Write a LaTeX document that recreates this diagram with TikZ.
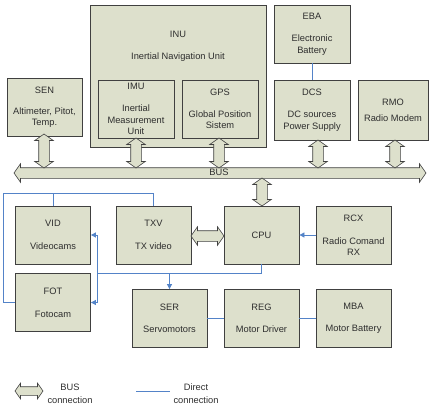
\documentclass[tikz,border=0pt]{standalone}
\usepackage{fontspec}
\setmainfont{Liberation Sans}
\usetikzlibrary{shapes.arrows,arrows.meta}
\definecolor{boxfill}{HTML}{DDE0CC}
\definecolor{boxline}{HTML}{404040}
\definecolor{directblue}{HTML}{5383C8}
\definecolor{txtgray}{HTML}{2E2E2E}

\begin{document}
\begin{tikzpicture}[x=1pt, y=-1pt,
    font=\fontsize{9.3}{11.5}\selectfont, text=txtgray,
    module/.style ={rectangle, draw=boxline, fill=boxfill, line width=0.8pt, minimum width=75pt, minimum height=58pt, align=center, inner sep=1pt},
    busarrow/.style ={double arrow, draw=boxline, fill=boxfill, line width=0.6pt, inner xsep=0pt, inner ysep=5pt, double arrow head extend=4pt, double arrow tip angle=110},
    busvert/.style ={busarrow, shape border rotate=90, inner xsep=5pt, inner ysep=0pt},
    direct/.style ={draw=directblue, line width=0.8pt},
    directarrow/.style ={direct, -{Triangle[length=5pt, width=5pt]}}]
   \useasboundingbox (0,0) rectangle (429,408);
   % upper row
   \node[module] (SEN) at (44.5,107) {SEN\\[9.5pt]Altimeter, Pitot,\\Temp.};
   \node[module, minimum width=176pt, minimum height=142pt] (INU) at (178,76) {};
   \node[align=center] (INUtitle) at (178,46) {INU\\[10.5pt]Inertial Navigation Unit};
   \node[module, minimum width=76pt] (IMU) at (136,109) {IMU\\[10.5pt]Inertial\\Measurement\\Unit};
   \node[module, minimum width=76pt] (GPS) at (220,109) {GPS\\[10.5pt]Global Position\\Sistem};
   \node[module, minimum width=76pt] (EBA) at (312,34) {EBA\\[11pt]Electronic\\Battery};
   \node[module, minimum width=76pt, minimum height=60pt] (DCS) at (312,110) {DCS\\[11pt]DC sources\\Power Supply};
   \node[module, minimum width=70pt, minimum height=60pt] (RMO) at (393,110) {RMO\\[4.5pt]Radio Modem};
   % bus
   \node[busarrow, minimum height=412pt] (bus) at (220,173) {};
   \node (bustext) at (219,172) {BUS};
   \node[busvert, minimum height=34pt] (SENbus) at (44,151) {};
   \node[busvert, minimum height=30pt] (IMUbus) at (136,153) {};
   \node[busvert, minimum height=30pt] (GPSbus) at (219,153) {};
   \node[busvert, minimum height=28pt] (DCSbus) at (318,154) {};
   \node[busvert, minimum height=28pt] (RMObus) at (395,154) {};
   \node[busvert, minimum height=28pt] (CPUbus) at (262,192) {};
   % lower rows
   \node[module] (VID) at (53,235) {VID\\[11.5pt]Videocams};
   \node[module] (TXV) at (153.5,235) {TXV\\[11.5pt]TX video};
   \node[module] (CPU) at (261.5,235) {CPU};
   \node[module] (RCX) at (353.5,235) {RCX\\[11.5pt]Radio Comand\\RX};
   \node[module] (FOT) at (53,302.5) {FOT\\[11.5pt]Fotocam};
   \node[module] (SER) at (169.5,318.5) {SER\\[10.5pt]Servomotors};
   \node[module] (REG) at (261.5,318.5) {REG\\[10.5pt]Motor Driver};
   \node[module] (MBA) at (353.5,318.5) {MBA\\[10.5pt]Motor Battery};
   \node[busarrow, minimum height=33pt] (TXVCPU) at (207.5,236) {};
   % direct connections
   \coordinate (loopTL) at (3,193);
   \coordinate (split) at (97,273);
   \draw[direct] (EBA) -- (DCS);
   \draw[direct] (TXV.north) |- (loopTL) |- (FOT.west);
   \draw[direct] (VID.north) -- (VID.north |- loopTL);
   \draw[direct] (CPU.south) |- (split);
   \draw[directarrow] (split) |- (VID.east);
   \draw[directarrow] (split) |- (FOT.east);
   \draw[directarrow] (SER.north |- split) -- (SER.north);
   \draw[directarrow] (RCX) -- (CPU);
   \draw[direct] (SER) -- (REG);
   \draw[direct] (REG) -- (MBA);
   % legend
   \node[busarrow, minimum height=28pt, inner ysep=4pt, double arrow head extend=3.5pt] (legbus) at (29,391) {};
   \node[align=center] (legbustext) at (70,393.5) {BUS\\[1.5pt]connection};
   \coordinate (legA) at (136,391);
   \coordinate (legB) at (170,391);
   \draw[direct] (legA) -- (legB);
   \node[align=center] (legdirtext) at (196,393.5) {Direct\\[1.5pt]connection};
 \end{tikzpicture}
\end{document}
